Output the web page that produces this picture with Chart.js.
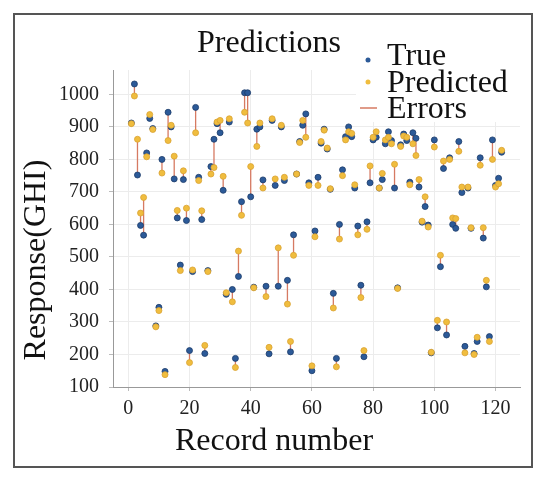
<!DOCTYPE html>
<html>
<head>
<meta charset="utf-8">
<script src="https://cdn.jsdelivr.net/npm/chart.js@4/dist/chart.umd.min.js"></script>
<style>
  body { margin: 0; background: #fff; }
  #wrap { width: 550px; height: 484px; }
</style>
</head>
<body>
<div id="wrap"><canvas id="myChart" width="550" height="484"></canvas></div>
<script>
// record numbers 1..122
let records = [];
for (let i = 1; i <= 122; i++) records.push(i);

let trueVals = [
  912, 1032, 752, 597, 567, 820, 926, 895, 288, 345,
  800, 148, 945, 900, 740, 620, 475, 738, 612, 212,
  455, 960, 745, 615, 203, 458, 778, 862, 910, 882,
  705, 385, 915, 400, 188, 440, 670, 1005, 1005, 685,
  407, 893, 900, 737, 410, 202, 920, 720, 410, 900,
  735, 428, 208, 568, 755, 855, 905, 940, 728, 150,
  580, 745, 850, 893, 832, 708, 388, 188, 600, 768,
  870, 900, 870, 712, 595, 413, 193, 608, 728, 860,
  868, 712, 738, 848, 885, 858, 712, 405, 845, 878,
  858, 730, 882, 865, 715, 607, 655, 598, 205, 860,
  282, 470, 772, 260, 805, 600, 588, 855, 698, 225,
  712, 588, 203, 240, 805, 558, 408, 255, 860, 720,
  742, 822
];

let predVals = [
  910, 995, 862, 635, 683, 808, 938, 892, 285, 335,
  758, 138, 858, 905, 810, 643, 458, 765, 650, 175,
  460, 882, 735, 642, 228, 455, 755, 775, 915, 920,
  748, 390, 925, 362, 160, 518, 628, 945, 912, 778,
  405, 840, 912, 712, 378, 222, 925, 740, 528, 905,
  745, 355, 240, 505, 755, 852, 920, 868, 720, 165,
  562, 720, 855, 890, 835, 710, 343, 162, 555, 750,
  860, 885, 880, 722, 568, 375, 212, 585, 780, 868,
  885, 712, 757, 860, 868, 848, 785, 403, 840, 872,
  868, 722, 848, 812, 738, 610, 685, 592, 207, 838,
  305, 505, 795, 300, 800, 620, 618, 825, 715, 205,
  715, 590, 200, 253, 782, 590, 428, 240, 800, 715,
  725, 828
];

let xTicks = [0, 20, 40, 60, 80, 100, 120];
let yTicks = [100, 200, 300, 400, 500, 600, 700, 800, 900, 1000];

let trueColor = '#2c5a98';
let predColor = '#f0bd3e';
let errColor = '#d67a62';

let truePts = records.map((r, i) => ({x: r, y: trueVals[i]}));
let predPts = records.map((r, i) => ({x: r, y: predVals[i]}));
// vertical error segments, separated by gaps
let errPts = [];
records.forEach((r, i) => {
  errPts.push({x: r, y: trueVals[i]});
  errPts.push({x: r, y: predVals[i]});
  errPts.push({x: r, y: null});
});

let serif = '"Liberation Serif", "DejaVu Serif", serif';

let decor = {
  id: 'decor',
  beforeDraw(chart) {
    let c = chart.ctx;
    c.save();
    c.fillStyle = '#fff';
    c.fillRect(0, 0, chart.width, chart.height);
    c.restore();
  },
  afterDraw(chart) {
    let c = chart.ctx;
    c.save();
    // outer frame
    c.strokeStyle = '#555';
    c.lineWidth = 2;
    c.strokeRect(14, 14, 518, 453);

    // legend box
    c.fillStyle = '#fff';
    c.fillRect(356, 70, 164, 52);
    c.fillStyle = '#111';
    c.font = '32px ' + serif;
    c.textBaseline = 'middle';
    c.textAlign = 'left';
    c.fillText('Predictions', 197, 44);
    c.fillText('True', 387, 57);
    c.fillText('Predicted', 387, 84);
    c.fillText('Errors', 387, 110);

    c.fillStyle = trueColor;
    c.beginPath(); c.arc(368, 60, 2.5, 0, Math.PI * 2); c.fill();
    c.fillStyle = predColor;
    c.beginPath(); c.arc(368, 82, 2.5, 0, Math.PI * 2); c.fill();
    c.strokeStyle = errColor;
    c.lineWidth = 1.5;
    c.beginPath(); c.moveTo(360, 108); c.lineTo(377, 108); c.stroke();

    // axis titles
    c.fillStyle = '#111';
    c.font = '32px ' + serif;
    c.textAlign = 'center';
    c.fillText('Record number', 274, 442);
    c.translate(37, 260);
    c.rotate(-Math.PI / 2);
    c.fillText('Response(GHI)', 0, 0);
    c.restore();
  }
};

let myChart = document.getElementById('myChart').getContext('2d');

let predChart = new Chart(myChart, {
  type: 'scatter',
  data: {
    datasets: [{
      label: 'Predicted',
      data: predPts,
      backgroundColor: predColor,
      borderColor: '#d9a232',
      borderWidth: 0.8,
      pointRadius: 3,
      order: 1
    }, {
      label: 'True',
      data: truePts,
      backgroundColor: trueColor,
      borderColor: '#1c3b6a',
      borderWidth: 0.8,
      pointRadius: 3,
      order: 2
    }, {
      label: 'Errors',
      data: errPts,
      showLine: true,
      spanGaps: false,
      borderColor: errColor,
      borderWidth: 1.3,
      pointRadius: 0,
      order: 3
    }]
  },
  options: {
    responsive: false,
    animation: false,
    layout: { padding: { top: 70, right: 30, left: 0, bottom: 0 } },
    plugins: { legend: { display: false }, tooltip: { enabled: false } },
    scales: {
      x: {
        type: 'linear',
        min: -5,
        max: 128,
        afterBuildTicks: (s) => { s.ticks = xTicks.map(v => ({value: v})); },
        afterFit: (s) => { s.height = 97; },
        grid: { color: '#ececec', tickLength: 4, tickColor: '#bbb' },
        border: { color: '#999' },
        ticks: { font: { family: serif, size: 20 }, color: '#222', padding: 6, maxRotation: 0,
                 callback: (v) => String(v) }
      },
      y: {
        min: 100,
        max: 1075,
        afterBuildTicks: (s) => { s.ticks = yTicks.map(v => ({value: v})); },
        afterFit: (s) => { s.width = 113; },
        grid: { color: '#ececec', tickLength: 4, tickColor: '#bbb' },
        border: { color: '#999' },
        ticks: { font: { family: serif, size: 20 }, color: '#222', padding: 10,
                 callback: (v) => String(v) }
      }
    }
  },
  plugins: [decor]
});
</script>
</body>
</html>
